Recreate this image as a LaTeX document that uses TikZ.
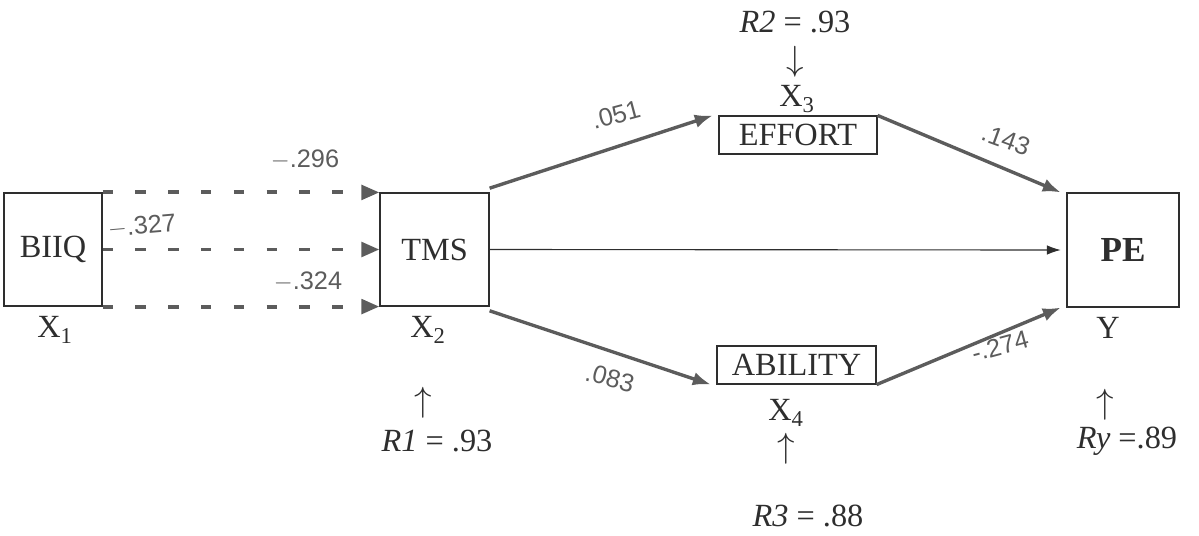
\documentclass[tikz,border=0pt]{standalone}
\usepackage{fontspec}
\setmainfont{Liberation Serif}
\newfontfamily\handfont{Liberation Sans}
\usetikzlibrary{arrows.meta, positioning}
\definecolor{pathgray}{HTML}{5C5C5C}
\definecolor{inkgray}{HTML}{2E2E2E}
\tikzset{
  varbox/.style={draw=inkgray, thick, fill=white, inner sep=0pt, text=inkgray,
                 font=\fontsize{23}{26}\selectfont},
  lbl/.style={font=\fontsize{23}{26}\selectfont, text=inkgray, inner sep=1pt},
  coef/.style={font=\handfont\fontsize{18}{20}\selectfont, text=pathgray, inner sep=1pt},
  patharr/.style={-{Latex[length=4.5mm,width=3.4mm]}, line width=2.4pt, pathgray},
  dasharr/.style={-{Triangle[length=4.5mm,width=3.6mm]}, line width=2.8pt, pathgray,
                  dash pattern=on 2.6mm off 5.6mm},
  thinarr/.style={-{Latex[length=3.5mm,width=2.4mm]}, thick, inkgray},
}

\begin{document}
\begin{tikzpicture}[x=0.025cm, y=-0.025cm]
  \useasboundingbox (0,0) rectangle (1199,535);
  % variables
  \node[varbox, minimum width=2.45cm, minimum height=2.825cm] (biiq) at (53,249.5) {BIIQ};
  \node[varbox, minimum width=2.725cm, minimum height=2.825cm] (tms) at (434.5,249.5) {TMS};
  \node[varbox, minimum width=3.95cm, minimum height=0.95cm] (effort) at (798,135) {EFFORT};
  \node[varbox, minimum width=3.975cm, minimum height=0.95cm] (ability) at (796.5,365) {ABILITY};
  \node[varbox, minimum width=2.8cm, minimum height=2.85cm, font=\fontsize{25}{28}\selectfont\bfseries] (pe) at (1123,250) {PE};

  % variable labels and residuals
  \node[lbl] (x1) at (55,330) {X\textsubscript{1}};
  \node[lbl] (x2) at (428,330) {X\textsubscript{2}};
  \node[lbl] (x3) at (797,99) {X\textsubscript{3}};
  \node[lbl] (x4) at (786,413) {X\textsubscript{4}};
  \node[lbl] (y) at (1108,328) {Y};
  \node[lbl] (r2) at (795,22) {\textit{R2} = .93};
  \node[lbl] (r2arr) at (795,62) {$\downarrow$};
  \node[lbl] (r1arr) at (423,403) {$\uparrow$};
  \node[lbl] (r1) at (437,441) {\textit{R1} = .93};
  \node[lbl] (r3arr) at (786,449) {$\uparrow$};
  \node[lbl] (r3) at (808,516) {\textit{R3} = .88};
  \node[lbl] (ryarr) at (1105,405) {$\uparrow$};
  \node[lbl] (ry) at (1127,441) {\textit{Ry} =.89};

  % paths
  \foreach \a/\b in {north east/north west, east/west, south east/south west}
    \draw[dasharr] (biiq.\a) -- (tms.\b);
  \draw[patharr] ([yshift=3pt]tms.north east) -- ([xshift=-4pt]effort.north west);
  \draw[patharr] (effort.north east) -- ([xshift=-4pt]pe.north west);
  \draw[patharr] ([yshift=-3pt]tms.south east) -- ([xshift=-4pt]ability.south west);
  \draw[patharr] (ability.south east) -- ([xshift=-4pt]pe.south west);
  \draw[thinarr] (tms.east) -- ([xshift=-4pt]pe.west);

  % coefficients
  \node[coef] (c296) at (305,160) {$-$.296};
  \node[coef, rotate=5] (c327) at (142,226) {$-$.327};
  \node[coef] (c324) at (308,282) {$-$.324};
  \node[coef, rotate=15] (c051) at (616,115) {.051};
  \node[coef, rotate=-20] (c143) at (1006,140) {.143};
  \node[coef, rotate=-15] (c083) at (610,378) {.083};
  \node[coef, rotate=15] (c274) at (1000,346) {-.274};
\end{tikzpicture}
\end{document}
